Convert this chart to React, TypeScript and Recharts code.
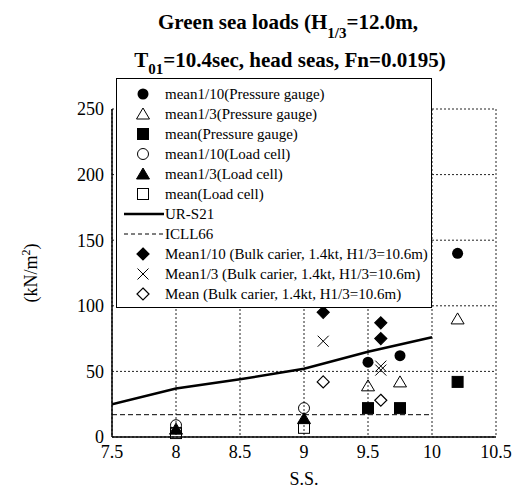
import React from 'react';
import {
  ComposedChart, Scatter, Line, XAxis, YAxis, CartesianGrid, Legend, Label, Customized,
} from 'recharts';

// Pressure gauge results (S.S. position vs load, kN/m2)
const pgSS = [9.5, 9.75, 10.2];
const pgMean10 = [57, 62, 140];
const pgMean3 = [39, 42, 90];
const pgMean = [22, 22, 42];

// Load cell results
const lcSS = [8, 9];
const lcMean10 = [9, 22];
const lcMean3 = [6, 14];
const lcMean = [3, 7];

// Rule values
const ruleSS = [7.5, 8, 8.5, 9, 9.5, 10];
const urS21 = [25, 37, 44, 52, 65, 76];
const icll66 = [17, 17, 17, 17, 17, 17];

// Bulk carrier, 1.4kt, H1/3=10.6m
const bulkMean10SS = [9.15, 9.6, 9.6];
const bulkMean10 = [95, 87, 75];
const bulkMean3SS = [9.15, 9.6, 9.6];
const bulkMean3 = [73, 51, 54];
const bulkMeanSS = [9.15, 9.6];
const bulkMean = [42, 28];

const xTicks = [7.5, 8, 8.5, 9, 9.5, 10, 10.5];
const yTicks = [0, 50, 100, 150, 200, 250];

const zip = (xs: number[], ys: number[]) => xs.map((x, i) => ({ x, y: ys[i] }));

const FONT = 'Liberation Serif, serif';

type Kind = 'dot' | 'circle' | 'tri' | 'triFill' | 'square' | 'squareOpen' | 'diamond' | 'diamondOpen' | 'cross';

function Marker({ kind, cx, cy }: { kind: Kind; cx: number; cy: number }) {
  switch (kind) {
    case 'dot':
      return <circle cx={cx} cy={cy} r={5.5} fill="#000" />;
    case 'circle':
      return <circle cx={cx} cy={cy} r={5.5} fill="none" stroke="#000" strokeWidth={1} />;
    case 'tri':
    case 'triFill':
      return (
        <polygon
          points={`${cx},${cy - 6} ${cx + 6.5},${cy + 5} ${cx - 6.5},${cy + 5}`}
          fill={kind === 'triFill' ? '#000' : 'none'}
          stroke="#000"
          strokeWidth={1}
        />
      );
    case 'square':
    case 'squareOpen':
      return (
        <rect
          x={cx - 5.5}
          y={cy - 5.5}
          width={11}
          height={11}
          fill={kind === 'square' ? '#000' : 'none'}
          stroke="#000"
          strokeWidth={1}
        />
      );
    case 'diamond':
    case 'diamondOpen':
      return (
        <polygon
          points={`${cx},${cy - 6} ${cx + 6},${cy} ${cx},${cy + 6} ${cx - 6},${cy}`}
          fill={kind === 'diamond' ? '#000' : 'none'}
          stroke="#000"
          strokeWidth={1.2}
        />
      );
    case 'cross':
      return (
        <g stroke="#000" strokeWidth={1}>
          <line x1={cx - 5.5} y1={cy - 5.5} x2={cx + 5.5} y2={cy + 5.5} />
          <line x1={cx - 5.5} y1={cy + 5.5} x2={cx + 5.5} y2={cy - 5.5} />
        </g>
      );
    default:
      return null;
  }
}

const shapeOf = (kind: Kind) => (props: any) => <Marker kind={kind} cx={props.cx} cy={props.cy} />;

const legendRows: { label: string; kind?: Kind; line?: 'solid' | 'dashed' }[] = [
  { label: 'mean1/10(Pressure gauge)', kind: 'dot' },
  { label: 'mean1/3(Pressure gauge)', kind: 'tri' },
  { label: 'mean(Pressure gauge)', kind: 'square' },
  { label: 'mean1/10(Load cell)', kind: 'circle' },
  { label: 'mean1/3(Load cell)', kind: 'triFill' },
  { label: 'mean(Load cell)', kind: 'squareOpen' },
  { label: 'UR-S21', line: 'solid' },
  { label: 'ICLL66', line: 'dashed' },
  { label: 'Mean1/10 (Bulk carier, 1.4kt, H1/3=10.6m)', kind: 'diamond' },
  { label: 'Mean1/3 (Bulk carier, 1.4kt, H1/3=10.6m)', kind: 'cross' },
  { label: 'Mean (Bulk carier, 1.4kt, H1/3=10.6m)', kind: 'diamondOpen' },
];

function LegendBox() {
  return (
    <div style={{ paddingTop: 5 }}>
      {legendRows.map((r) => (
        <div key={r.label} style={{ display: 'flex', alignItems: 'center', height: 20 }}>
          <svg width={48} height={20} style={{ flex: 'none' }}>
            {r.kind && <Marker kind={r.kind} cx={26} cy={10} />}
            {r.line === 'solid' && <line x1={7} y1={10} x2={47} y2={10} stroke="#000" strokeWidth={2.5} />}
            {r.line === 'dashed' && (
              <line x1={7} y1={10} x2={47} y2={10} stroke="#000" strokeWidth={1} strokeDasharray="4 3" />
            )}
          </svg>
          <span style={{ fontFamily: FONT, fontSize: 15, color: '#000', whiteSpace: 'nowrap' }}>{r.label}</span>
        </div>
      ))}
    </div>
  );
}

function Title() {
  return (
    <g fill="#000">
      <text x={288} y={29} textAnchor="middle" fontFamily={FONT} fontWeight="bold" fontSize={21}>
        Green sea loads (H
        <tspan fontSize={15} dy={9}>1/3</tspan>
        <tspan dy={-9}>=12.0m,</tspan>
      </text>
      <text x={290} y={67} textAnchor="middle" fontFamily={FONT} fontWeight="bold" fontSize={21}>
        T
        <tspan fontSize={15} dy={7}>01</tspan>
        <tspan dy={-7}>=10.4sec, head seas, Fn=0.0195)</tspan>
      </text>
    </g>
  );
}

const YTitle = () => (
  <text
    x={37}
    y={273}
    transform="rotate(-90, 37, 273)"
    textAnchor="middle"
    fontFamily={FONT}
    fontSize={18}
    fill="#000"
  >
    (kN/m
    <tspan fontSize={12} dy={-7}>2</tspan>
    <tspan dy={7}>)</tspan>
  </text>
);

export default function App() {
  const tick = { fontSize: 18, fill: '#000', fontFamily: FONT };
  return (
    <div style={{ position: 'absolute', left: 0, top: 0, width: 517, height: 490, background: '#fff' }}>
      <ComposedChart width={517} height={490} margin={{ top: 109, right: 21, left: 0, bottom: 0 }}>
        <CartesianGrid stroke="#222" strokeDasharray="2 2" />
        <XAxis
          type="number"
          dataKey="x"
          domain={[7.5, 10.5]}
          ticks={xTicks}
          tickLine={false}
          tick={tick}
          height={53}
          axisLine={{ stroke: '#000', strokeWidth: 1.5 }}
          allowDataOverflow
        >
          <Label value="S.S." position="insideBottom" offset={5} fontFamily={FONT} fontSize={18} fill="#000" />
        </XAxis>
        <YAxis
          type="number"
          dataKey="y"
          domain={[0, 250]}
          ticks={yTicks}
          tickLine={false}
          tick={tick}
          width={112}
          axisLine={{ stroke: '#000', strokeWidth: 1.5 }}
        />
        <Line data={zip(ruleSS, icll66)} dataKey="y" stroke="#000" strokeWidth={1} strokeDasharray="5 3" dot={false} isAnimationActive={false} />
        <Line data={zip(ruleSS, urS21)} dataKey="y" stroke="#000" strokeWidth={2.5} dot={false} isAnimationActive={false} />
        <Scatter data={zip(pgSS, pgMean10)} dataKey="y" shape={shapeOf('dot')} isAnimationActive={false} />
        <Scatter data={zip(pgSS, pgMean3)} dataKey="y" shape={shapeOf('tri')} isAnimationActive={false} />
        <Scatter data={zip(pgSS, pgMean)} dataKey="y" shape={shapeOf('square')} isAnimationActive={false} />
        <Scatter data={zip(lcSS, lcMean10)} dataKey="y" shape={shapeOf('circle')} isAnimationActive={false} />
        <Scatter data={zip(lcSS, lcMean3)} dataKey="y" shape={shapeOf('triFill')} isAnimationActive={false} />
        <Scatter data={zip(lcSS, lcMean)} dataKey="y" shape={shapeOf('squareOpen')} isAnimationActive={false} />
        <Scatter data={zip(bulkMean10SS, bulkMean10)} dataKey="y" shape={shapeOf('diamond')} isAnimationActive={false} />
        <Scatter data={zip(bulkMean3SS, bulkMean3)} dataKey="y" shape={shapeOf('cross')} isAnimationActive={false} />
        <Scatter data={zip(bulkMeanSS, bulkMean)} dataKey="y" shape={shapeOf('diamondOpen')} isAnimationActive={false} />
        <Customized component={<Title />} />
        <Customized component={<YTitle />} />
        <Legend
          layout="vertical"
          align="center"
          verticalAlign="middle"
          content={() => <LegendBox />}
          wrapperStyle={{
            position: 'absolute',
            left: 116,
            top: 78,
            width: 316,
            height: 230,
            border: '1px solid #000',
            background: '#fff',
            boxSizing: 'border-box',
          }}
        />
      </ComposedChart>
    </div>
  );
}
